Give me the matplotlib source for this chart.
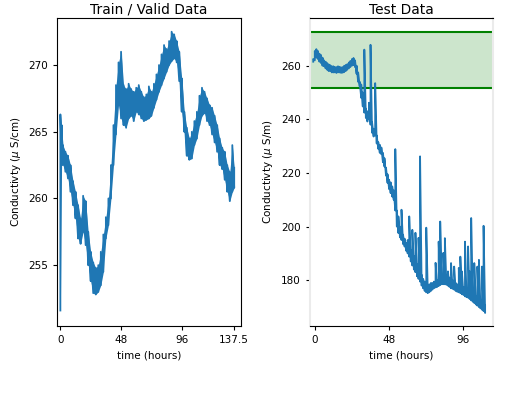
import numpy as np
import matplotlib
matplotlib.use("Agg")
import matplotlib.pyplot as plt

# train / valid data: time (hours), lower and upper edge of the noisy trace
train_t = [0, 1, 2, 4, 6, 8, 10, 12, 14, 16, 18, 20, 22, 24, 26, 28, 30, 32, 34, 36,
           38, 40, 42, 44, 46, 48, 50, 52, 54, 56, 58, 60, 62, 64, 66, 68, 70, 72, 74,
           76, 78, 80, 82, 84, 86, 88, 90, 92, 94, 96, 98, 100, 102, 104, 106, 108,
           110, 112, 114, 116, 118, 120, 122, 124, 126, 128, 130, 132, 134, 136, 137.5]
train_lo = [251.6, 263.0, 262.5, 262.0, 261.5, 260.5, 259.5, 258.5, 257.0, 256.6,
            257.5, 256.5, 255.0, 253.8, 252.9, 252.8, 253.0, 253.5, 254.5, 257.0,
            258.0, 260.0, 262.5, 264.8, 267.0, 266.0, 265.5, 265.3, 266.0, 266.2,
            265.8, 266.5, 266.3, 266.0, 265.8, 265.9, 266.0, 266.2, 266.8, 267.4,
            268.0, 268.5, 269.0, 269.5, 270.0, 270.3, 270.5, 270.2, 268.8, 266.5,
            265.0, 263.2, 262.9, 263.0, 264.0, 264.5, 265.5, 266.2, 266.4, 265.8,
            265.5, 264.8, 264.2, 263.5, 262.5, 262.2, 261.4, 260.5, 259.8, 260.5, 260.8]
train_hi = [266.3, 265.5, 264.0, 263.5, 263.2, 262.5, 261.3, 260.5, 259.5, 258.5,
            260.2, 259.8, 257.5, 256.0, 255.2, 254.8, 255.0, 256.0, 257.3, 258.6,
            260.0, 262.5, 265.5, 268.5, 270.2, 271.0, 268.5, 268.2, 268.6, 268.2,
            268.0, 268.3, 268.5, 268.0, 267.6, 267.8, 268.4, 268.0, 268.6, 269.3,
            270.0, 270.8, 271.5, 271.2, 271.8, 272.5, 272.3, 271.8, 271.0, 269.0,
            266.5, 265.3, 264.5, 265.0, 265.8, 266.5, 267.7, 268.3, 268.0, 267.5,
            267.0, 266.8, 266.2, 265.5, 264.5, 263.8, 263.5, 262.5, 262.0, 264.0, 262.3]

# test data
test_t = list(range(-1, 111))
test_lo = [261.5, 262.0, 263.0, 262.5, 261.5, 261.0, 260.0, 259.8, 259.0, 258.5,
           258.0, 258.0, 257.5, 257.5, 257.5, 257.3, 257.5, 257.5, 257.3, 257.4,
           257.6, 258.0, 258.5, 259.0, 259.5, 260.0, 260.2, 259.5, 257.0, 254.0,
           252.3, 248.0, 244.8, 242.5, 240.5, 239.2, 240.0, 238.0, 235.0, 233.6,
           234.0, 231.0, 229.0, 227.5, 227.0, 224.0, 222.4, 219.0, 216.3, 214.0,
           212.5, 211.2, 210.0, 206.0, 200.0, 197.6, 196.0, 195.0, 193.5, 192.6,
           191.0, 190.0, 188.8, 187.0, 185.5, 184.0, 183.0, 181.5, 180.5, 179.5,
           178.0, 177.0, 176.0, 175.5, 175.2, 175.5, 176.0, 176.5, 177.0, 177.3,
           177.5, 177.8, 178.2, 178.5, 178.5, 178.5, 178.3, 178.0, 177.5, 177.0,
           176.8, 176.5, 176.0, 175.7, 175.5, 175.2, 174.8, 174.5, 174.0, 173.7,
           173.5, 173.0, 172.5, 172.0, 171.5, 171.0, 170.5, 170.0, 169.5, 169.0,
           168.5, 167.8]
test_hi = [262.5, 265.5, 266.2, 265.5, 264.5, 264.0, 263.0, 262.0, 261.5, 261.0,
           260.5, 260.2, 259.8, 259.8, 259.5, 259.5, 259.8, 259.6, 259.4, 259.5,
           260.0, 260.3, 260.6, 261.2, 261.8, 262.5, 262.9, 262.0, 260.0, 257.5,
           254.0, 253.0, 250.0, 266.0, 244.0, 243.0, 246.2, 267.8, 239.0, 236.5,
           253.5, 234.0, 231.5, 230.5, 229.5, 227.5, 225.5, 222.0, 219.5, 217.5,
           216.5, 215.0, 213.5, 228.9, 206.0, 203.8, 200.0, 206.3, 197.0, 195.5,
           194.0, 195.0, 203.8, 191.3, 198.8, 189.0, 197.7, 186.0, 195.8, 226.2,
           182.0, 180.5, 179.5, 199.6, 178.0, 178.5, 179.0, 179.0, 179.5, 186.5,
           180.0, 194.4, 201.9, 181.5, 190.2, 195.7, 182.0, 183.3, 181.0, 186.4,
           180.0, 185.1, 179.0, 178.5, 184.6, 188.8, 183.3, 177.5, 194.4, 177.0,
           192.6, 183.3, 203.2, 175.0, 186.4, 174.0, 185.1, 187.6, 172.5, 185.1,
           200.3, 170.5]


def trace(t, lo, hi):
    # zig-zag between lower and upper edge to draw the noisy band
    x = np.repeat(t, 2)
    y = np.column_stack([lo, hi]).ravel()
    return x, y


fig = plt.figure(figsize=(5.26, 3.94), dpi=100)
ax1 = fig.add_axes([0.109, 0.173, 0.349, 0.782])
ax2 = fig.add_axes([0.589, 0.173, 0.348, 0.782])

fs = 7.5
blue = '#1f77b4'

x, y = trace(train_t, train_lo, train_hi)
ax1.fill_between(train_t, train_lo, train_hi, color=blue, lw=0)
ax1.plot(x, y, color=blue, lw=1.3)
ax1.set_xlim(-2.4, 142.8)
ax1.set_ylim(250.45, 273.55)
ax1.set_xticks([0, 48, 96, 137.5])
ax1.set_xticklabels(['0', '48', '96', '137.5'])
ax1.set_yticks([255, 260, 265, 270])
ax1.tick_params(labelsize=fs, length=3)
ax1.set_title('Train / Valid Data', fontsize=9.9, pad=3)
ax1.set_xlabel('time (hours)', fontsize=fs)
ax1.set_ylabel('Conductivty ($\\mu$ S/cm)', fontsize=fs)

# band = range seen in the training data
lo_band = min(train_lo)
hi_band = max(train_hi)
ax2.axhspan(lo_band, hi_band, color='green', alpha=0.2, lw=0)
ax2.axhline(lo_band, color='green', lw=1.5)
ax2.axhline(hi_band, color='green', lw=1.5)
x, y = trace(test_t, test_lo, test_hi)
ax2.plot(x, y, color=blue, lw=1.3)
ax2.set_xlim(-3.2, 115)
ax2.set_ylim(163.0, 277.9)
ax2.set_xticks([0, 48, 96])
ax2.set_yticks([180, 200, 220, 240, 260])
ax2.tick_params(labelsize=fs, length=3)
ax2.spines['left'].set_color('#ebebeb')
ax2.spines['right'].set_color('#ebebeb')
ax2.spines['left'].set_linewidth(1.5)
ax2.spines['right'].set_linewidth(1.5)
ax2.set_title('Test Data', fontsize=9.9, pad=3)
ax2.set_xlabel('time (hours)', fontsize=fs)
ax2.set_ylabel('Conductivty ($\\mu$ S/m)', fontsize=fs)

fig.savefig('out.png', dpi=100)
